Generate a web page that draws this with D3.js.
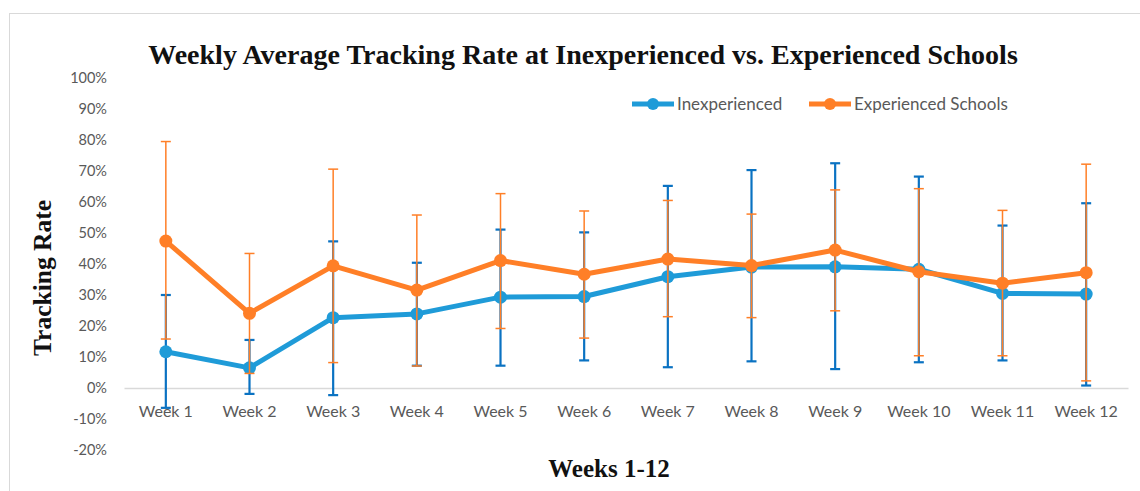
<!DOCTYPE html>
<html>
<head>
<meta charset="utf-8">
<script src="https://cdn.jsdelivr.net/npm/d3@7"></script>
<style>
  body { margin: 0; background: #fff; }
  svg { display: block; }
</style>
</head>
<body>
<svg class="chart" width="1140" height="491"></svg>
<script>
var weeks = ["Week 1","Week 2","Week 3","Week 4","Week 5","Week 6","Week 7","Week 8","Week 9","Week 10","Week 11","Week 12"];
var inexp_mean  = [11.7, 6.5, 22.7, 23.9, 29.3, 29.5, 35.9, 39.0, 39.1, 38.3, 30.5, 30.3];
var inexp_upper = [30.0, 15.5, 47.3, 40.4, 51.1, 50.2, 65.2, 70.3, 72.5, 68.2, 52.4, 59.6];
var inexp_lower = [-6.4, -1.9, -2.3, 7.2, 7.2, 8.9, 6.7, 8.6, 6.1, 8.3, 8.9, 0.8];
var exp_mean  = [47.4, 24.1, 39.4, 31.6, 41.1, 36.7, 41.6, 39.5, 44.5, 37.5, 33.8, 37.2];
var exp_upper = [79.5, 43.4, 70.6, 55.8, 62.7, 57.1, 60.5, 56.1, 63.9, 64.3, 57.3, 72.2];
var exp_lower = [15.8, 4.7, 8.2, 7.1, 19.2, 16.1, 23.0, 22.7, 24.9, 10.4, 10.4, 2.3];
var y_ticks = [-20, -10, 0, 10, 20, 30, 40, 50, 60, 70, 80, 90, 100];

var blue_line = "#1f9bd8", blue_err = "#0a72c2";
var orange = "#ff7f27";

var svg = d3.select(".chart");

// outer frame
svg.append("rect")
  .attr("x", 9.5).attr("y", 13.5)
  .attr("width", 1150).attr("height", 500)
  .attr("fill", "none").attr("stroke", "#d9d9d9");

var x = d3.scaleBand().domain(weeks).range([124, 1128]);
var y = d3.scaleLinear().domain([-20, 100]).range([450, 78]);

// y tick labels
svg.append("g")
  .selectAll("text")
  .data(y_ticks)
  .enter().append("text")
  .attr("x", 107)
  .attr("y", function(d) { return y(d); })
  .attr("dy", "0.35em")
  .attr("text-anchor", "end")
  .style("font-family", "Lato, 'Open Sans', sans-serif")
  .style("font-size", "14.5px")
  .style("fill", "#595959")
  .text(function(d) { return d + "%"; });

// zero line with week labels
var xAxis = svg.append("g")
  .attr("transform", "translate(0," + y(0) + ")")
  .call(d3.axisBottom(x).tickSize(0).tickPadding(18));
xAxis.select(".domain").attr("stroke", "#d9d9d9").attr("stroke-width", 1.5);
xAxis.selectAll("text")
  .style("font-family", "Lato, 'Open Sans', sans-serif")
  .style("font-size", "16px")
  .style("fill", "#595959");

function cx(i) { return x(weeks[i]) + x.bandwidth() / 2; }

function errorBars(lower, upper, color, w) {
  var g = svg.append("g").attr("stroke", color).attr("stroke-width", w);
  g.selectAll("line.v").data(weeks).enter().append("line")
    .attr("x1", function(d, i) { return cx(i); })
    .attr("x2", function(d, i) { return cx(i); })
    .attr("y1", function(d, i) { return y(lower[i]); })
    .attr("y2", function(d, i) { return y(upper[i]); });
  [lower, upper].forEach(function(arr) {
    g.selectAll(null).data(weeks).enter().append("line")
      .attr("x1", function(d, i) { return cx(i) - 5; })
      .attr("x2", function(d, i) { return cx(i) + 5; })
      .attr("y1", function(d, i) { return y(arr[i]); })
      .attr("y2", function(d, i) { return y(arr[i]); });
  });
}

function series(vals, color) {
  var line = d3.line()
    .x(function(d, i) { return cx(i); })
    .y(function(d) { return y(d); });
  svg.append("path")
    .datum(vals)
    .attr("d", line)
    .attr("fill", "none")
    .attr("stroke", color)
    .attr("stroke-width", 5)
    .attr("stroke-linejoin", "round");
  svg.append("g").selectAll("circle")
    .data(vals).enter().append("circle")
    .attr("cx", function(d, i) { return cx(i); })
    .attr("cy", function(d) { return y(d); })
    .attr("r", 6.5)
    .attr("fill", color);
}

errorBars(inexp_lower, inexp_upper, blue_err, 2.2);
series(inexp_mean, blue_line);
errorBars(exp_lower, exp_upper, orange, 1.5);
series(exp_mean, orange);

// title
var title = svg.append("text")
  .attr("x", 583).attr("y", 64)
  .attr("text-anchor", "middle")
  .style("font-family", "'Liberation Serif', serif")
  .style("font-weight", "bold")
  .style("font-size", "25px")
  .style("fill", "#111")
  .text("Weekly Average Tracking Rate at Inexperienced vs. Experienced Schools");
var tw = title.node().getComputedTextLength();
title.style("font-size", (25 * 870 / tw) + "px");

// axis titles
svg.append("text")
  .attr("transform", "translate(51,278) rotate(-90)")
  .attr("text-anchor", "middle")
  .style("font-family", "'Liberation Serif', serif")
  .style("font-weight", "bold")
  .style("font-size", "25.5px")
  .style("fill", "#111")
  .text("Tracking Rate");

svg.append("text")
  .attr("x", 609).attr("y", 477)
  .attr("text-anchor", "middle")
  .style("font-family", "'Liberation Serif', serif")
  .style("font-weight", "bold")
  .style("font-size", "25px")
  .style("fill", "#111")
  .text("Weeks 1-12");

// legend
var legend = [
  {name: "Inexperienced", color: blue_line, x: 632},
  {name: "Experienced Schools", color: orange, x: 809}
];
var lg = svg.append("g").selectAll("g").data(legend).enter().append("g")
  .attr("transform", function(d) { return "translate(" + d.x + ",104)"; });
lg.append("line").attr("x1", 0).attr("x2", 42)
  .attr("stroke", function(d) { return d.color; }).attr("stroke-width", 5);
lg.append("circle").attr("cx", 21).attr("r", 6).attr("fill", function(d) { return d.color; });
lg.append("text").attr("x", 45).attr("dy", "0.35em")
  .style("font-family", "Lato, 'Open Sans', sans-serif")
  .style("font-size", "17px")
  .style("fill", "#595959")
  .text(function(d) { return d.name; });
</script>
</body>
</html>
